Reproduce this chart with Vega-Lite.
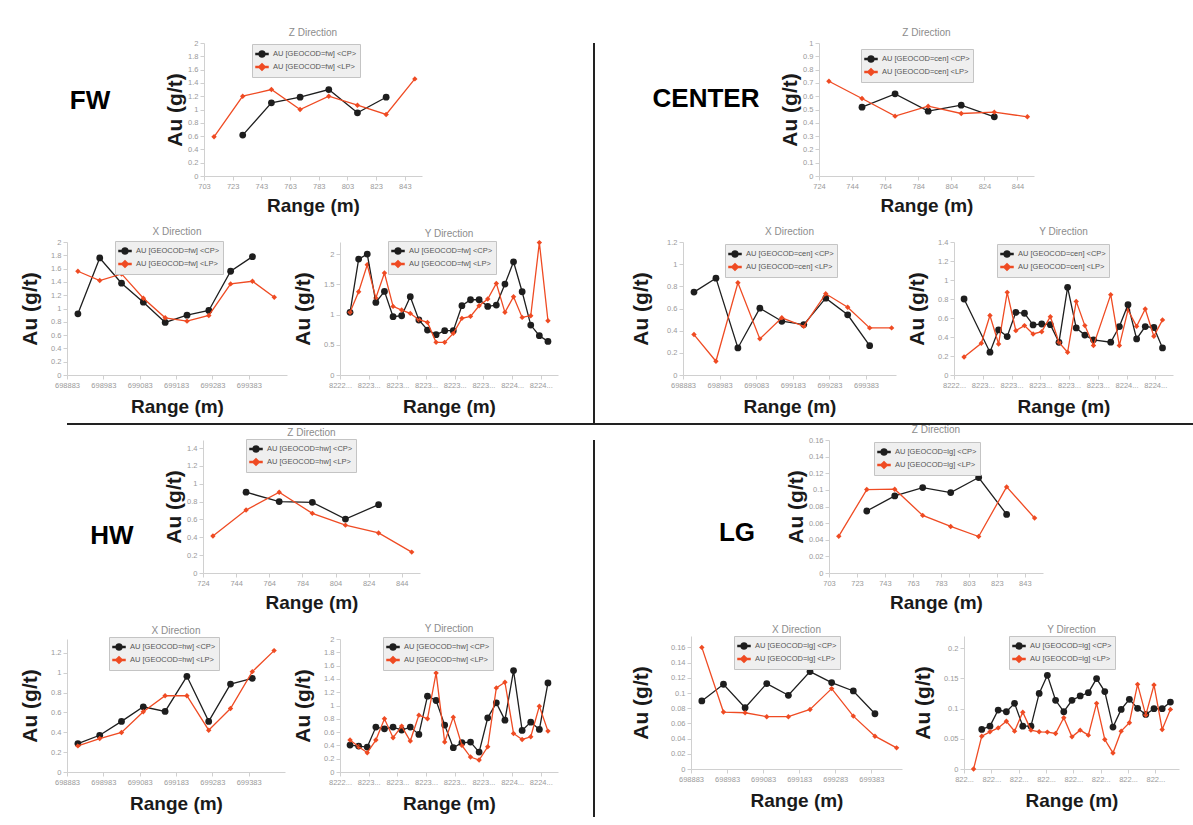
{
"$schema": "https://vega.github.io/schema/vega-lite/v6.json",
"background": "white",
"padding": {"left": 19, "top": 28, "right": 0, "bottom": 0},
"config": {
 "view": {"stroke": null},
 "font": "Liberation Sans",
 "axis": {"grid": false, "domainColor": "#d0d0d0", "tickColor": "#d0d0d0", "labelColor": "#9a9a9a", "labelFontSize": 7.5, "tickSize": 4, "labelPadding": 2, "titleColor": "#1a1a1a", "titleFontWeight": "bold", "labelFlush": false, "labelOverlap": false},
 "axisX": {"titleFontSize": 19, "titlePadding": 9},
 "axisY": {"titleFontSize": 21, "titlePadding": 10},
 "title": {"fontSize": 10, "color": "#8c8c8c", "fontWeight": "normal", "offset": 1},
 "legend": {"orient": "none", "fillColor": "#efefef", "strokeColor": "#c4c4c4", "padding": 3, "labelFontSize": 7.5, "labelColor": "#555555", "symbolSize": 144, "rowPadding": 0, "labelOffset": 4}
},
"datasets": {
 "fwz": [{"x":730,"v":0.615,"s":"CP"},{"x":750,"v":1.1,"s":"CP"},{"x":770,"v":1.185,"s":"CP"},{"x":790,"v":1.3,"s":"CP"},{"x":810,"v":0.95,"s":"CP"},{"x":830,"v":1.185,"s":"CP"},
  {"x":710,"v":0.59,"s":"LP"},{"x":730,"v":1.2,"s":"LP"},{"x":750,"v":1.3,"s":"LP"},{"x":770,"v":1.0,"s":"LP"},{"x":790,"v":1.2,"s":"LP"},{"x":810,"v":1.065,"s":"LP"},{"x":830,"v":0.925,"s":"LP"},{"x":850,"v":1.46,"s":"LP"}],
 "fwx": [{"x":698913,"v":0.92,"s":"CP"},{"x":698973,"v":1.76,"s":"CP"},{"x":699033,"v":1.38,"s":"CP"},{"x":699093,"v":1.095,"s":"CP"},{"x":699153,"v":0.79,"s":"CP"},{"x":699213,"v":0.9,"s":"CP"},{"x":699273,"v":0.97,"s":"CP"},{"x":699333,"v":1.56,"s":"CP"},{"x":699393,"v":1.78,"s":"CP"},
  {"x":698913,"v":1.56,"s":"LP"},{"x":698973,"v":1.42,"s":"LP"},{"x":699033,"v":1.52,"s":"LP"},{"x":699093,"v":1.155,"s":"LP"},{"x":699153,"v":0.86,"s":"LP"},{"x":699213,"v":0.81,"s":"LP"},{"x":699273,"v":0.895,"s":"LP"},{"x":699333,"v":1.37,"s":"LP"},{"x":699393,"v":1.41,"s":"LP"},{"x":699453,"v":1.17,"s":"LP"}],
 "fwy": [{"x":8223053,"v":1.036,"s":"CP"},{"x":8223113,"v":1.917,"s":"CP"},{"x":8223173,"v":2.0,"s":"CP"},{"x":8223233,"v":1.2,"s":"CP"},{"x":8223293,"v":1.383,"s":"CP"},{"x":8223353,"v":0.964,"s":"CP"},{"x":8223413,"v":0.98,"s":"CP"},{"x":8223473,"v":1.295,"s":"CP"},{"x":8223533,"v":0.91,"s":"CP"},{"x":8223593,"v":0.744,"s":"CP"},{"x":8223653,"v":0.667,"s":"CP"},{"x":8223713,"v":0.733,"s":"CP"},{"x":8223773,"v":0.733,"s":"CP"},{"x":8223833,"v":1.146,"s":"CP"},{"x":8223893,"v":1.245,"s":"CP"},{"x":8223953,"v":1.245,"s":"CP"},{"x":8224013,"v":1.135,"s":"CP"},{"x":8224073,"v":1.157,"s":"CP"},{"x":8224133,"v":1.504,"s":"CP"},{"x":8224193,"v":1.873,"s":"CP"},{"x":8224253,"v":1.377,"s":"CP"},{"x":8224313,"v":0.826,"s":"CP"},{"x":8224373,"v":0.65,"s":"CP"},{"x":8224433,"v":0.556,"s":"CP"},
  {"x":8223053,"v":1.036,"s":"LP"},{"x":8223113,"v":1.377,"s":"LP"},{"x":8223173,"v":1.824,"s":"LP"},{"x":8223233,"v":1.273,"s":"LP"},{"x":8223293,"v":1.686,"s":"LP"},{"x":8223353,"v":1.135,"s":"LP"},{"x":8223413,"v":1.074,"s":"LP"},{"x":8223473,"v":1.019,"s":"LP"},{"x":8223533,"v":0.915,"s":"LP"},{"x":8223593,"v":0.87,"s":"LP"},{"x":8223653,"v":0.54,"s":"LP"},{"x":8223713,"v":0.54,"s":"LP"},{"x":8223773,"v":0.689,"s":"LP"},{"x":8223833,"v":0.937,"s":"LP"},{"x":8223893,"v":0.97,"s":"LP"},{"x":8223953,"v":1.146,"s":"LP"},{"x":8224013,"v":1.256,"s":"LP"},{"x":8224073,"v":1.515,"s":"LP"},{"x":8224133,"v":1.036,"s":"LP"},{"x":8224193,"v":1.295,"s":"LP"},{"x":8224253,"v":0.953,"s":"LP"},{"x":8224313,"v":0.98,"s":"LP"},{"x":8224373,"v":2.19,"s":"LP"},{"x":8224433,"v":0.898,"s":"LP"}],
 "cez": [{"x":750,"v":0.5175,"s":"CP"},{"x":770,"v":0.6175,"s":"CP"},{"x":790,"v":0.4875,"s":"CP"},{"x":810,"v":0.5325,"s":"CP"},{"x":830,"v":0.445,"s":"CP"},
  {"x":730,"v":0.7125,"s":"LP"},{"x":750,"v":0.5825,"s":"LP"},{"x":770,"v":0.45,"s":"LP"},{"x":790,"v":0.525,"s":"LP"},{"x":810,"v":0.47,"s":"LP"},{"x":830,"v":0.48,"s":"LP"},{"x":850,"v":0.445,"s":"LP"}],
 "cex": [{"x":698913,"v":0.748,"s":"CP"},{"x":698973,"v":0.874,"s":"CP"},{"x":699033,"v":0.244,"s":"CP"},{"x":699093,"v":0.603,"s":"CP"},{"x":699153,"v":0.485,"s":"CP"},{"x":699213,"v":0.455,"s":"CP"},{"x":699273,"v":0.693,"s":"CP"},{"x":699333,"v":0.543,"s":"CP"},{"x":699393,"v":0.265,"s":"CP"},
  {"x":698913,"v":0.365,"s":"LP"},{"x":698973,"v":0.124,"s":"LP"},{"x":699033,"v":0.832,"s":"LP"},{"x":699093,"v":0.326,"s":"LP"},{"x":699153,"v":0.516,"s":"LP"},{"x":699213,"v":0.44,"s":"LP"},{"x":699273,"v":0.733,"s":"LP"},{"x":699333,"v":0.612,"s":"LP"},{"x":699393,"v":0.425,"s":"LP"},{"x":699453,"v":0.425,"s":"LP"}],
 "cey": [{"x":8223053,"v":0.8,"s":"CP"},{"x":8223233,"v":0.24,"s":"CP"},{"x":8223293,"v":0.475,"s":"CP"},{"x":8223353,"v":0.405,"s":"CP"},{"x":8223413,"v":0.66,"s":"CP"},{"x":8223473,"v":0.65,"s":"CP"},{"x":8223533,"v":0.527,"s":"CP"},{"x":8223593,"v":0.537,"s":"CP"},{"x":8223653,"v":0.53,"s":"CP"},{"x":8223713,"v":0.344,"s":"CP"},{"x":8223773,"v":0.923,"s":"CP"},{"x":8223833,"v":0.495,"s":"CP"},{"x":8223893,"v":0.42,"s":"CP"},{"x":8223953,"v":0.37,"s":"CP"},{"x":8224073,"v":0.345,"s":"CP"},{"x":8224133,"v":0.51,"s":"CP"},{"x":8224193,"v":0.74,"s":"CP"},{"x":8224253,"v":0.38,"s":"CP"},{"x":8224313,"v":0.51,"s":"CP"},{"x":8224373,"v":0.5,"s":"CP"},{"x":8224433,"v":0.285,"s":"CP"},
  {"x":8223053,"v":0.19,"s":"LP"},{"x":8223173,"v":0.334,"s":"LP"},{"x":8223233,"v":0.626,"s":"LP"},{"x":8223293,"v":0.327,"s":"LP"},{"x":8223353,"v":0.87,"s":"LP"},{"x":8223413,"v":0.467,"s":"LP"},{"x":8223473,"v":0.52,"s":"LP"},{"x":8223533,"v":0.432,"s":"LP"},{"x":8223593,"v":0.456,"s":"LP"},{"x":8223653,"v":0.614,"s":"LP"},{"x":8223713,"v":0.344,"s":"LP"},{"x":8223773,"v":0.239,"s":"LP"},{"x":8223833,"v":0.775,"s":"LP"},{"x":8223893,"v":0.52,"s":"LP"},{"x":8223953,"v":0.31,"s":"LP"},{"x":8224073,"v":0.846,"s":"LP"},{"x":8224133,"v":0.31,"s":"LP"},{"x":8224193,"v":0.684,"s":"LP"},{"x":8224253,"v":0.512,"s":"LP"},{"x":8224313,"v":0.695,"s":"LP"},{"x":8224373,"v":0.407,"s":"LP"},{"x":8224433,"v":0.58,"s":"LP"}],
 "hwz": [{"x":750,"v":0.905,"s":"CP"},{"x":770,"v":0.8,"s":"CP"},{"x":790,"v":0.792,"s":"CP"},{"x":810,"v":0.604,"s":"CP"},{"x":830,"v":0.766,"s":"CP"},
  {"x":730,"v":0.415,"s":"LP"},{"x":750,"v":0.705,"s":"LP"},{"x":770,"v":0.905,"s":"LP"},{"x":790,"v":0.668,"s":"LP"},{"x":810,"v":0.536,"s":"LP"},{"x":830,"v":0.449,"s":"LP"},{"x":850,"v":0.234,"s":"LP"}],
 "hwx": [{"x":698913,"v":0.286,"s":"CP"},{"x":698973,"v":0.37,"s":"CP"},{"x":699033,"v":0.51,"s":"CP"},{"x":699093,"v":0.657,"s":"CP"},{"x":699153,"v":0.61,"s":"CP"},{"x":699213,"v":0.964,"s":"CP"},{"x":699273,"v":0.51,"s":"CP"},{"x":699333,"v":0.886,"s":"CP"},{"x":699393,"v":0.944,"s":"CP"},
  {"x":698913,"v":0.263,"s":"LP"},{"x":698973,"v":0.337,"s":"LP"},{"x":699033,"v":0.398,"s":"LP"},{"x":699093,"v":0.607,"s":"LP"},{"x":699153,"v":0.768,"s":"LP"},{"x":699213,"v":0.768,"s":"LP"},{"x":699273,"v":0.421,"s":"LP"},{"x":699333,"v":0.64,"s":"LP"},{"x":699393,"v":1.011,"s":"LP"},{"x":699453,"v":1.223,"s":"LP"}],
 "hwy": [{"x":8223053,"v":0.405,"s":"CP"},{"x":8223113,"v":0.39,"s":"CP"},{"x":8223173,"v":0.375,"s":"CP"},{"x":8223233,"v":0.675,"s":"CP"},{"x":8223293,"v":0.65,"s":"CP"},{"x":8223353,"v":0.675,"s":"CP"},{"x":8223413,"v":0.63,"s":"CP"},{"x":8223473,"v":0.675,"s":"CP"},{"x":8223533,"v":0.565,"s":"CP"},{"x":8223593,"v":1.14,"s":"CP"},{"x":8223653,"v":1.075,"s":"CP"},{"x":8223713,"v":0.705,"s":"CP"},{"x":8223773,"v":0.365,"s":"CP"},{"x":8223833,"v":0.44,"s":"CP"},{"x":8223893,"v":0.45,"s":"CP"},{"x":8223953,"v":0.3,"s":"CP"},{"x":8224013,"v":0.815,"s":"CP"},{"x":8224073,"v":1.04,"s":"CP"},{"x":8224133,"v":0.78,"s":"CP"},{"x":8224193,"v":1.525,"s":"CP"},{"x":8224253,"v":0.625,"s":"CP"},{"x":8224313,"v":0.75,"s":"CP"},{"x":8224373,"v":0.64,"s":"CP"},{"x":8224433,"v":1.34,"s":"CP"},
  {"x":8223053,"v":0.48,"s":"LP"},{"x":8223113,"v":0.38,"s":"LP"},{"x":8223173,"v":0.29,"s":"LP"},{"x":8223233,"v":0.48,"s":"LP"},{"x":8223293,"v":0.8,"s":"LP"},{"x":8223353,"v":0.515,"s":"LP"},{"x":8223413,"v":0.69,"s":"LP"},{"x":8223473,"v":0.465,"s":"LP"},{"x":8223533,"v":0.855,"s":"LP"},{"x":8223593,"v":0.8,"s":"LP"},{"x":8223653,"v":1.49,"s":"LP"},{"x":8223713,"v":0.45,"s":"LP"},{"x":8223773,"v":0.825,"s":"LP"},{"x":8223833,"v":0.4,"s":"LP"},{"x":8223893,"v":0.225,"s":"LP"},{"x":8223953,"v":0.18,"s":"LP"},{"x":8224013,"v":0.38,"s":"LP"},{"x":8224073,"v":1.265,"s":"LP"},{"x":8224133,"v":1.35,"s":"LP"},{"x":8224193,"v":0.58,"s":"LP"},{"x":8224253,"v":0.49,"s":"LP"},{"x":8224313,"v":0.53,"s":"LP"},{"x":8224373,"v":0.99,"s":"LP"},{"x":8224433,"v":0.615,"s":"LP"}],
 "lgz": [{"x":730,"v":0.0746,"s":"CP"},{"x":750,"v":0.0927,"s":"CP"},{"x":770,"v":0.1028,"s":"CP"},{"x":790,"v":0.0967,"s":"CP"},{"x":810,"v":0.1149,"s":"CP"},{"x":830,"v":0.0705,"s":"CP"},
  {"x":710,"v":0.0443,"s":"LP"},{"x":730,"v":0.1004,"s":"LP"},{"x":750,"v":0.1008,"s":"LP"},{"x":770,"v":0.0693,"s":"LP"},{"x":790,"v":0.056,"s":"LP"},{"x":810,"v":0.0439,"s":"LP"},{"x":830,"v":0.1036,"s":"LP"},{"x":850,"v":0.0661,"s":"LP"}],
 "lgx": [{"x":698913,"v":0.0895,"s":"CP"},{"x":698973,"v":0.1115,"s":"CP"},{"x":699033,"v":0.0807,"s":"CP"},{"x":699093,"v":0.1124,"s":"CP"},{"x":699153,"v":0.097,"s":"CP"},{"x":699213,"v":0.1282,"s":"CP"},{"x":699273,"v":0.1137,"s":"CP"},{"x":699333,"v":0.1027,"s":"CP"},{"x":699393,"v":0.0727,"s":"CP"},
  {"x":698913,"v":0.16,"s":"LP"},{"x":698973,"v":0.0749,"s":"LP"},{"x":699033,"v":0.074,"s":"LP"},{"x":699093,"v":0.0688,"s":"LP"},{"x":699153,"v":0.0688,"s":"LP"},{"x":699213,"v":0.0784,"s":"LP"},{"x":699273,"v":0.1058,"s":"LP"},{"x":699333,"v":0.0696,"s":"LP"},{"x":699393,"v":0.0432,"s":"LP"},{"x":699453,"v":0.0278,"s":"LP"}],
 "lgy": [{"x":8223113,"v":0.0654,"s":"CP"},{"x":8223173,"v":0.0709,"s":"CP"},{"x":8223233,"v":0.0975,"s":"CP"},{"x":8223293,"v":0.0947,"s":"CP"},{"x":8223353,"v":0.1086,"s":"CP"},{"x":8223413,"v":0.0709,"s":"CP"},{"x":8223473,"v":0.0709,"s":"CP"},{"x":8223533,"v":0.125,"s":"CP"},{"x":8223593,"v":0.155,"s":"CP"},{"x":8223653,"v":0.1136,"s":"CP"},{"x":8223713,"v":0.0947,"s":"CP"},{"x":8223773,"v":0.1136,"s":"CP"},{"x":8223833,"v":0.1208,"s":"CP"},{"x":8223893,"v":0.1263,"s":"CP"},{"x":8223953,"v":0.1496,"s":"CP"},{"x":8224013,"v":0.128,"s":"CP"},{"x":8224073,"v":0.0693,"s":"CP"},{"x":8224133,"v":0.0986,"s":"CP"},{"x":8224193,"v":0.1152,"s":"CP"},{"x":8224253,"v":0.1003,"s":"CP"},{"x":8224313,"v":0.0903,"s":"CP"},{"x":8224373,"v":0.0997,"s":"CP"},{"x":8224433,"v":0.0997,"s":"CP"},{"x":8224493,"v":0.1108,"s":"CP"},
  {"x":8223053,"v":0,"s":"LP"},{"x":8223113,"v":0.0543,"s":"LP"},{"x":8223173,"v":0.0615,"s":"LP"},{"x":8223233,"v":0.068,"s":"LP"},{"x":8223293,"v":0.079,"s":"LP"},{"x":8223353,"v":0.0626,"s":"LP"},{"x":8223413,"v":0.094,"s":"LP"},{"x":8223473,"v":0.0643,"s":"LP"},{"x":8223533,"v":0.0615,"s":"LP"},{"x":8223593,"v":0.061,"s":"LP"},{"x":8223653,"v":0.0587,"s":"LP"},{"x":8223713,"v":0.0848,"s":"LP"},{"x":8223773,"v":0.0532,"s":"LP"},{"x":8223833,"v":0.0643,"s":"LP"},{"x":8223893,"v":0.056,"s":"LP"},{"x":8223953,"v":0.1086,"s":"LP"},{"x":8224013,"v":0.0488,"s":"LP"},{"x":8224073,"v":0.0266,"s":"LP"},{"x":8224133,"v":0.0626,"s":"LP"},{"x":8224193,"v":0.0765,"s":"LP"},{"x":8224253,"v":0.14,"s":"LP"},{"x":8224313,"v":0.0892,"s":"LP"},{"x":8224373,"v":0.139,"s":"LP"},{"x":8224433,"v":0.0654,"s":"LP"},{"x":8224493,"v":0.0986,"s":"LP"}]
},
"columns": 1,
"align": "none",
"spacing": 0,
"resolve": {"scale": {"color": "independent", "shape": "independent"}},
"concat": [
 {"spacing": 35, "resolve": {"scale": {"color": "independent", "shape": "independent"}}, "hconcat": [
  {"spacing": 11, "resolve": {"scale": {"color": "independent", "shape": "independent"}}, "vconcat": [
   {"spacing": 4, "resolve": {"scale": {"color": "independent", "shape": "independent"}}, "hconcat": [
    {"width": 93, "height": 133, "data": {"values": [{"t": "FW"}]}, "mark": {"type": "text", "fontSize": 26, "fontWeight": "bold", "color": "#000000", "dx": -23.5, "dy": -8.5}, "encoding": {"text": {"field": "t"}}},
    {"width": 218, "height": 133, "title": "Z Direction", "data": {"name": "fwz"},
     "encoding": {
      "x": {"field": "x", "type": "quantitative", "scale": {"domain": [703, 855], "nice": false, "zero": false}, "axis": {"title": "Range (m)", "values": [703,723,743,763,783,803,823,843], "format": "d", "titlePadding": 7}},
      "y": {"field": "v", "type": "quantitative", "scale": {"domain": [0, 2], "nice": false}, "axis": {"title": "Au (g/t)", "values": [0,0.2,0.4,0.6,0.8,1,1.2,1.4,1.6,1.8,2], "format": "~g", "titlePadding": 2}},
      "color": {"field": "s", "type": "nominal", "scale": {"domain": ["CP","LP"], "range": ["#1e1e1e","#ef4b23"]}, "legend": {"title": null, "legendX": 48, "legendY": 1, "labelExpr": "'AU [GEOCOD=fw] <' + datum.label + '>'"}}
     },
     "layer": [
      {"transform": [{"filter": "datum.s === 'CP'"}], "mark": {"type": "point", "filled": true, "opacity": 1, "size": 46, "shape": "circle"}},
      {"transform": [{"filter": "datum.s === 'LP'"}], "mark": {"type": "point", "filled": true, "opacity": 1, "size": 46, "shape": "M0,-0.8L0.8,0L0,0.8L-0.8,0Z"}},
      {"mark": {"type": "line", "strokeWidth": 1.3}},
      {"transform": [{"filter": "false"}], "mark": {"type": "point", "filled": true, "opacity": 1}, "encoding": {"shape": {"field": "s", "type": "nominal", "scale": {"domain": ["CP","LP"], "range": ["M-1,-0.08H-0.49A0.5,0.5,0,0,1,0.49,-0.08H1V0.08H0.49A0.5,0.5,0,0,1,-0.49,0.08H-1Z", "M-1,-0.08H-0.47L0,-0.55L0.47,-0.08H1V0.08H0.47L0,0.55L-0.47,0.08H-1Z"]}, "legend": {"title": null, "legendX": 48, "legendY": 1, "labelExpr": "'AU [GEOCOD=fw] <' + datum.label + '>'"}}}}
     ]}
   ]},
   {"spacing": 5, "resolve": {"scale": {"color": "independent", "shape": "independent"}}, "hconcat": [
    {"width": 220, "height": 133, "title": "X Direction", "data": {"name": "fwx"},
     "encoding": {
      "x": {"field": "x", "type": "quantitative", "scale": {"domain": [698883, 699488], "nice": false, "zero": false}, "axis": {"title": "Range (m)", "values": [698883,698983,699083,699183,699283,699383], "format": "d"}},
      "y": {"field": "v", "type": "quantitative", "scale": {"domain": [0, 2], "nice": false}, "axis": {"title": "Au (g/t)", "values": [0,0.2,0.4,0.6,0.8,1,1.2,1.4,1.6,1.8,2], "format": "~g"}},
      "color": {"field": "s", "type": "nominal", "scale": {"domain": ["CP","LP"], "range": ["#1e1e1e","#ef4b23"]}, "legend": {"title": null, "legendX": 48, "legendY": -1, "labelExpr": "'AU [GEOCOD=fw] <' + datum.label + '>'"}}
     },
     "layer": [
      {"transform": [{"filter": "datum.s === 'CP'"}], "mark": {"type": "point", "filled": true, "opacity": 1, "size": 46, "shape": "circle"}},
      {"transform": [{"filter": "datum.s === 'LP'"}], "mark": {"type": "point", "filled": true, "opacity": 1, "size": 46, "shape": "M0,-0.8L0.8,0L0,0.8L-0.8,0Z"}},
      {"mark": {"type": "line", "strokeWidth": 1.3}},
      {"transform": [{"filter": "false"}], "mark": {"type": "point", "filled": true, "opacity": 1}, "encoding": {"shape": {"field": "s", "type": "nominal", "scale": {"domain": ["CP","LP"], "range": ["M-1,-0.08H-0.49A0.5,0.5,0,0,1,0.49,-0.08H1V0.08H0.49A0.5,0.5,0,0,1,-0.49,0.08H-1Z", "M-1,-0.08H-0.47L0,-0.55L0.47,-0.08H1V0.08H0.47L0,0.55L-0.47,0.08H-1Z"]}, "legend": {"title": null, "legendX": 48, "legendY": -1, "labelExpr": "'AU [GEOCOD=fw] <' + datum.label + '>'"}}}}
     ]},
    {"width": 218, "height": 133, "title": "Y Direction", "data": {"name": "fwy"},
     "encoding": {
      "x": {"field": "x", "type": "quantitative", "scale": {"domain": [8222983, 8224503], "nice": false, "zero": false}, "axis": {"title": "Range (m)", "values": [8222983,8223183,8223383,8223583,8223783,8223983,8224183,8224383], "format": "d", "labelExpr": "slice(datum.label, 0, 4) + '...'"}},
      "y": {"field": "v", "type": "quantitative", "scale": {"domain": [0, 2.2], "nice": false}, "axis": {"title": "Au (g/t)", "values": [0,0.5,1,1.5,2], "format": "~g"}},
      "color": {"field": "s", "type": "nominal", "scale": {"domain": ["CP","LP"], "range": ["#1e1e1e","#ef4b23"]}, "legend": {"title": null, "legendX": 48, "legendY": -1, "labelExpr": "'AU [GEOCOD=fw] <' + datum.label + '>'"}}
     },
     "layer": [
      {"transform": [{"filter": "datum.s === 'CP'"}], "mark": {"type": "point", "filled": true, "opacity": 1, "size": 46, "shape": "circle"}},
      {"transform": [{"filter": "datum.s === 'LP'"}], "mark": {"type": "point", "filled": true, "opacity": 1, "size": 46, "shape": "M0,-0.8L0.8,0L0,0.8L-0.8,0Z"}},
      {"mark": {"type": "line", "strokeWidth": 1.3}},
      {"transform": [{"filter": "false"}], "mark": {"type": "point", "filled": true, "opacity": 1}, "encoding": {"shape": {"field": "s", "type": "nominal", "scale": {"domain": ["CP","LP"], "range": ["M-1,-0.08H-0.49A0.5,0.5,0,0,1,0.49,-0.08H1V0.08H0.49A0.5,0.5,0,0,1,-0.49,0.08H-1Z", "M-1,-0.08H-0.47L0,-0.55L0.47,-0.08H1V0.08H0.47L0,0.55L-0.47,0.08H-1Z"]}, "legend": {"title": null, "legendX": 48, "legendY": -1, "labelExpr": "'AU [GEOCOD=fw] <' + datum.label + '>'"}}}}
     ]}
   ]}
  ]},
  {"width": 2, "height": 380, "data": {"values": [{}]}, "mark": {"type": "rect", "color": "#222222"}, "view": {"fill": "#222222", "stroke": null}},
  {"spacing": 11, "resolve": {"scale": {"color": "independent", "shape": "independent"}}, "vconcat": [
   {"spacing": 4, "resolve": {"scale": {"color": "independent", "shape": "independent"}}, "hconcat": [
    {"width": 92, "height": 133, "data": {"values": [{"t": "CENTER"}]}, "mark": {"type": "text", "fontSize": 26, "fontWeight": "bold", "color": "#000000", "dx": -23, "dy": -10.5}, "encoding": {"text": {"field": "t"}}},
    {"width": 215, "height": 133, "title": "Z Direction", "data": {"name": "cez"},
     "encoding": {
      "x": {"field": "x", "type": "quantitative", "scale": {"domain": [724, 854], "nice": false, "zero": false}, "axis": {"title": "Range (m)", "values": [724,744,764,784,804,824,844], "format": "d", "titlePadding": 7}},
      "y": {"field": "v", "type": "quantitative", "scale": {"domain": [0, 1], "nice": false}, "axis": {"title": "Au (g/t)", "values": [0,0.1,0.2,0.3,0.4,0.5,0.6,0.7,0.8,0.9,1], "format": "~g", "titlePadding": 2}},
      "color": {"field": "s", "type": "nominal", "scale": {"domain": ["CP","LP"], "range": ["#1e1e1e","#ef4b23"]}, "legend": {"title": null, "legendX": 42, "legendY": 6, "labelExpr": "'AU [GEOCOD=cen] <' + datum.label + '>'"}}
     },
     "layer": [
      {"transform": [{"filter": "datum.s === 'CP'"}], "mark": {"type": "point", "filled": true, "opacity": 1, "size": 46, "shape": "circle"}},
      {"transform": [{"filter": "datum.s === 'LP'"}], "mark": {"type": "point", "filled": true, "opacity": 1, "size": 46, "shape": "M0,-0.8L0.8,0L0,0.8L-0.8,0Z"}},
      {"mark": {"type": "line", "strokeWidth": 1.3}},
      {"transform": [{"filter": "false"}], "mark": {"type": "point", "filled": true, "opacity": 1}, "encoding": {"shape": {"field": "s", "type": "nominal", "scale": {"domain": ["CP","LP"], "range": ["M-1,-0.08H-0.49A0.5,0.5,0,0,1,0.49,-0.08H1V0.08H0.49A0.5,0.5,0,0,1,-0.49,0.08H-1Z", "M-1,-0.08H-0.47L0,-0.55L0.47,-0.08H1V0.08H0.47L0,0.55L-0.47,0.08H-1Z"]}, "legend": {"title": null, "legendX": 42, "legendY": 6, "labelExpr": "'AU [GEOCOD=cen] <' + datum.label + '>'"}}}}
     ]}
   ]},
   {"spacing": 10, "resolve": {"scale": {"color": "independent", "shape": "independent"}}, "hconcat": [
    {"width": 213, "height": 133, "title": "X Direction", "data": {"name": "cex"},
     "encoding": {
      "x": {"field": "x", "type": "quantitative", "scale": {"domain": [698883, 699465], "nice": false, "zero": false}, "axis": {"title": "Range (m)", "values": [698883,698983,699083,699183,699283,699383], "format": "d"}},
      "y": {"field": "v", "type": "quantitative", "scale": {"domain": [0, 1.2], "nice": false}, "axis": {"title": "Au (g/t)", "values": [0,0.2,0.4,0.6,0.8,1,1.2], "format": "~g", "titlePadding": 15}},
      "color": {"field": "s", "type": "nominal", "scale": {"domain": ["CP","LP"], "range": ["#1e1e1e","#ef4b23"]}, "legend": {"title": null, "legendX": 42, "legendY": 2, "labelExpr": "'AU [GEOCOD=cen] <' + datum.label + '>'"}}
     },
     "layer": [
      {"transform": [{"filter": "datum.s === 'CP'"}], "mark": {"type": "point", "filled": true, "opacity": 1, "size": 46, "shape": "circle"}},
      {"transform": [{"filter": "datum.s === 'LP'"}], "mark": {"type": "point", "filled": true, "opacity": 1, "size": 46, "shape": "M0,-0.8L0.8,0L0,0.8L-0.8,0Z"}},
      {"mark": {"type": "line", "strokeWidth": 1.3}},
      {"transform": [{"filter": "false"}], "mark": {"type": "point", "filled": true, "opacity": 1}, "encoding": {"shape": {"field": "s", "type": "nominal", "scale": {"domain": ["CP","LP"], "range": ["M-1,-0.08H-0.49A0.5,0.5,0,0,1,0.49,-0.08H1V0.08H0.49A0.5,0.5,0,0,1,-0.49,0.08H-1Z", "M-1,-0.08H-0.47L0,-0.55L0.47,-0.08H1V0.08H0.47L0,0.55L-0.47,0.08H-1Z"]}, "legend": {"title": null, "legendX": 42, "legendY": 2, "labelExpr": "'AU [GEOCOD=cen] <' + datum.label + '>'"}}}}
     ]},
    {"width": 219, "height": 133, "title": "Y Direction", "data": {"name": "cey"},
     "encoding": {
      "x": {"field": "x", "type": "quantitative", "scale": {"domain": [8222983, 8224506], "nice": false, "zero": false}, "axis": {"title": "Range (m)", "values": [8222983,8223183,8223383,8223583,8223783,8223983,8224183,8224383], "format": "d", "labelExpr": "slice(datum.label, 0, 4) + '...'"}},
      "y": {"field": "v", "type": "quantitative", "scale": {"domain": [0, 1.4], "nice": false}, "axis": {"title": "Au (g/t)", "values": [0,0.2,0.4,0.6,0.8,1,1.2,1.4], "format": "~g"}},
      "color": {"field": "s", "type": "nominal", "scale": {"domain": ["CP","LP"], "range": ["#1e1e1e","#ef4b23"]}, "legend": {"title": null, "legendX": 43, "legendY": 2, "labelExpr": "'AU [GEOCOD=cen] <' + datum.label + '>'"}}
     },
     "layer": [
      {"transform": [{"filter": "datum.s === 'CP'"}], "mark": {"type": "point", "filled": true, "opacity": 1, "size": 46, "shape": "circle"}},
      {"transform": [{"filter": "datum.s === 'LP'"}], "mark": {"type": "point", "filled": true, "opacity": 1, "size": 46, "shape": "M0,-0.8L0.8,0L0,0.8L-0.8,0Z"}},
      {"mark": {"type": "line", "strokeWidth": 1.3}},
      {"transform": [{"filter": "false"}], "mark": {"type": "point", "filled": true, "opacity": 1}, "encoding": {"shape": {"field": "s", "type": "nominal", "scale": {"domain": ["CP","LP"], "range": ["M-1,-0.08H-0.49A0.5,0.5,0,0,1,0.49,-0.08H1V0.08H0.49A0.5,0.5,0,0,1,-0.49,0.08H-1Z", "M-1,-0.08H-0.47L0,-0.55L0.47,-0.08H1V0.08H0.47L0,0.55L-0.47,0.08H-1Z"]}, "legend": {"title": null, "legendX": 43, "legendY": 2, "labelExpr": "'AU [GEOCOD=cen] <' + datum.label + '>'"}}}}
     ]}
   ]}
  ]}
 ]},
 {"width": 1126, "height": 2, "data": {"values": [{}]}, "mark": {"type": "rect", "color": "#222222"}, "view": {"fill": "#222222", "stroke": null}},
 {"spacing": 35, "resolve": {"scale": {"color": "independent", "shape": "independent"}}, "hconcat": [
  {"spacing": 11, "resolve": {"scale": {"color": "independent", "shape": "independent"}}, "vconcat": [
   {"spacing": 4, "resolve": {"scale": {"color": "independent", "shape": "independent"}}, "hconcat": [
    {"width": 92, "height": 133, "data": {"values": [{"t": "HW"}]}, "mark": {"type": "text", "fontSize": 26, "fontWeight": "bold", "color": "#000000", "dx": -1, "dy": 29.5}, "encoding": {"text": {"field": "t"}}},
    {"width": 217, "height": 133, "title": "Z Direction", "data": {"name": "hwz"},
     "encoding": {
      "x": {"field": "x", "type": "quantitative", "scale": {"domain": [724, 855], "nice": false, "zero": false}, "axis": {"title": "Range (m)", "values": [724,744,764,784,804,824,844], "format": "d", "titlePadding": 7}},
      "y": {"field": "v", "type": "quantitative", "scale": {"domain": [0, 1.49], "nice": false}, "axis": {"title": "Au (g/t)", "values": [0,0.2,0.4,0.6,0.8,1,1.2,1.4], "format": "~g", "titlePadding": 2}},
      "color": {"field": "s", "type": "nominal", "scale": {"domain": ["CP","LP"], "range": ["#1e1e1e","#ef4b23"]}, "legend": {"title": null, "legendX": 43, "legendY": -1, "labelExpr": "'AU [GEOCOD=hw] <' + datum.label + '>'"}}
     },
     "layer": [
      {"transform": [{"filter": "datum.s === 'CP'"}], "mark": {"type": "point", "filled": true, "opacity": 1, "size": 46, "shape": "circle"}},
      {"transform": [{"filter": "datum.s === 'LP'"}], "mark": {"type": "point", "filled": true, "opacity": 1, "size": 46, "shape": "M0,-0.8L0.8,0L0,0.8L-0.8,0Z"}},
      {"mark": {"type": "line", "strokeWidth": 1.3}},
      {"transform": [{"filter": "false"}], "mark": {"type": "point", "filled": true, "opacity": 1}, "encoding": {"shape": {"field": "s", "type": "nominal", "scale": {"domain": ["CP","LP"], "range": ["M-1,-0.08H-0.49A0.5,0.5,0,0,1,0.49,-0.08H1V0.08H0.49A0.5,0.5,0,0,1,-0.49,0.08H-1Z", "M-1,-0.08H-0.47L0,-0.55L0.47,-0.08H1V0.08H0.47L0,0.55L-0.47,0.08H-1Z"]}, "legend": {"title": null, "legendX": 43, "legendY": -1, "labelExpr": "'AU [GEOCOD=hw] <' + datum.label + '>'"}}}}
     ]}
   ]},
   {"spacing": 7, "resolve": {"scale": {"color": "independent", "shape": "independent"}}, "hconcat": [
    {"width": 218, "height": 133, "title": "X Direction", "data": {"name": "hwx"},
     "encoding": {
      "x": {"field": "x", "type": "quantitative", "scale": {"domain": [698883, 699483], "nice": false, "zero": false}, "axis": {"title": "Range (m)", "values": [698883,698983,699083,699183,699283,699383], "format": "d"}},
      "y": {"field": "v", "type": "quantitative", "scale": {"domain": [0, 1.34], "nice": false}, "axis": {"title": "Au (g/t)", "values": [0,0.2,0.4,0.6,0.8,1,1.2], "format": "~g"}},
      "color": {"field": "s", "type": "nominal", "scale": {"domain": ["CP","LP"], "range": ["#1e1e1e","#ef4b23"]}, "legend": {"title": null, "legendX": 42, "legendY": -2, "labelExpr": "'AU [GEOCOD=hw] <' + datum.label + '>'"}}
     },
     "layer": [
      {"transform": [{"filter": "datum.s === 'CP'"}], "mark": {"type": "point", "filled": true, "opacity": 1, "size": 46, "shape": "circle"}},
      {"transform": [{"filter": "datum.s === 'LP'"}], "mark": {"type": "point", "filled": true, "opacity": 1, "size": 46, "shape": "M0,-0.8L0.8,0L0,0.8L-0.8,0Z"}},
      {"mark": {"type": "line", "strokeWidth": 1.3}},
      {"transform": [{"filter": "false"}], "mark": {"type": "point", "filled": true, "opacity": 1}, "encoding": {"shape": {"field": "s", "type": "nominal", "scale": {"domain": ["CP","LP"], "range": ["M-1,-0.08H-0.49A0.5,0.5,0,0,1,0.49,-0.08H1V0.08H0.49A0.5,0.5,0,0,1,-0.49,0.08H-1Z", "M-1,-0.08H-0.47L0,-0.55L0.47,-0.08H1V0.08H0.47L0,0.55L-0.47,0.08H-1Z"]}, "legend": {"title": null, "legendX": 42, "legendY": -2, "labelExpr": "'AU [GEOCOD=hw] <' + datum.label + '>'"}}}}
     ]},
    {"width": 218, "height": 133, "title": "Y Direction", "data": {"name": "hwy"},
     "encoding": {
      "x": {"field": "x", "type": "quantitative", "scale": {"domain": [8222983, 8224503], "nice": false, "zero": false}, "axis": {"title": "Range (m)", "values": [8222983,8223183,8223383,8223583,8223783,8223983,8224183,8224383], "format": "d", "labelExpr": "slice(datum.label, 0, 4) + '...'"}},
      "y": {"field": "v", "type": "quantitative", "scale": {"domain": [0, 2], "nice": false}, "axis": {"title": "Au (g/t)", "values": [0,0.2,0.4,0.6,0.8,1,1.2,1.4,1.6,1.8,2], "format": "~g"}},
      "color": {"field": "s", "type": "nominal", "scale": {"domain": ["CP","LP"], "range": ["#1e1e1e","#ef4b23"]}, "legend": {"title": null, "legendX": 43, "legendY": -2, "labelExpr": "'AU [GEOCOD=hw] <' + datum.label + '>'"}}
     },
     "layer": [
      {"transform": [{"filter": "datum.s === 'CP'"}], "mark": {"type": "point", "filled": true, "opacity": 1, "size": 46, "shape": "circle"}},
      {"transform": [{"filter": "datum.s === 'LP'"}], "mark": {"type": "point", "filled": true, "opacity": 1, "size": 46, "shape": "M0,-0.8L0.8,0L0,0.8L-0.8,0Z"}},
      {"mark": {"type": "line", "strokeWidth": 1.3}},
      {"transform": [{"filter": "false"}], "mark": {"type": "point", "filled": true, "opacity": 1}, "encoding": {"shape": {"field": "s", "type": "nominal", "scale": {"domain": ["CP","LP"], "range": ["M-1,-0.08H-0.49A0.5,0.5,0,0,1,0.49,-0.08H1V0.08H0.49A0.5,0.5,0,0,1,-0.49,0.08H-1Z", "M-1,-0.08H-0.47L0,-0.55L0.47,-0.08H1V0.08H0.47L0,0.55L-0.47,0.08H-1Z"]}, "legend": {"title": null, "legendX": 43, "legendY": -2, "labelExpr": "'AU [GEOCOD=hw] <' + datum.label + '>'"}}}}
     ]}
   ]}
  ]},
  {"width": 2, "height": 377, "data": {"values": [{}]}, "mark": {"type": "rect", "color": "#222222"}, "view": {"fill": "#222222", "stroke": null}},
  {"spacing": 11, "resolve": {"scale": {"color": "independent", "shape": "independent"}}, "vconcat": [
   {"spacing": 4, "resolve": {"scale": {"color": "independent", "shape": "independent"}}, "hconcat": [
    {"width": 90, "height": 133, "data": {"values": [{"t": "LG"}]}, "mark": {"type": "text", "fontSize": 26, "fontWeight": "bold", "color": "#000000", "dx": 1, "dy": 26.5}, "encoding": {"text": {"field": "t"}}},
    {"width": 214, "height": 133, "title": "Z Direction", "data": {"name": "lgz"},
     "encoding": {
      "x": {"field": "x", "type": "quantitative", "scale": {"domain": [703, 856], "nice": false, "zero": false}, "axis": {"title": "Range (m)", "values": [703,723,743,763,783,803,823,843], "format": "d", "titlePadding": 7}},
      "y": {"field": "v", "type": "quantitative", "scale": {"domain": [0, 0.16], "nice": false}, "axis": {"title": "Au (g/t)", "values": [0,0.02,0.04,0.06,0.08,0.1,0.12,0.14,0.16], "format": "~g", "titlePadding": 2}},
      "color": {"field": "s", "type": "nominal", "scale": {"domain": ["CP","LP"], "range": ["#1e1e1e","#ef4b23"]}, "legend": {"title": null, "legendX": 45, "legendY": 2, "labelExpr": "'AU [GEOCOD=lg] <' + datum.label + '>'"}}
     },
     "layer": [
      {"transform": [{"filter": "datum.s === 'CP'"}], "mark": {"type": "point", "filled": true, "opacity": 1, "size": 46, "shape": "circle"}},
      {"transform": [{"filter": "datum.s === 'LP'"}], "mark": {"type": "point", "filled": true, "opacity": 1, "size": 46, "shape": "M0,-0.8L0.8,0L0,0.8L-0.8,0Z"}},
      {"mark": {"type": "line", "strokeWidth": 1.3}},
      {"transform": [{"filter": "false"}], "mark": {"type": "point", "filled": true, "opacity": 1}, "encoding": {"shape": {"field": "s", "type": "nominal", "scale": {"domain": ["CP","LP"], "range": ["M-1,-0.08H-0.49A0.5,0.5,0,0,1,0.49,-0.08H1V0.08H0.49A0.5,0.5,0,0,1,-0.49,0.08H-1Z", "M-1,-0.08H-0.47L0,-0.55L0.47,-0.08H1V0.08H0.47L0,0.55L-0.47,0.08H-1Z"]}, "legend": {"title": null, "legendX": 45, "legendY": 2, "labelExpr": "'AU [GEOCOD=lg] <' + datum.label + '>'"}}}}
     ]}
   ]},
   {"spacing": 10, "resolve": {"scale": {"color": "independent", "shape": "independent"}}, "hconcat": [
    {"width": 211, "height": 133, "title": "X Direction", "data": {"name": "lgx"},
     "encoding": {
      "x": {"field": "x", "type": "quantitative", "scale": {"domain": [698883, 699468], "nice": false, "zero": false}, "axis": {"title": "Range (m)", "values": [698883,698983,699083,699183,699283,699383], "format": "d"}},
      "y": {"field": "v", "type": "quantitative", "scale": {"domain": [0, 0.175], "nice": false}, "axis": {"title": "Au (g/t)", "values": [0,0.02,0.04,0.06,0.08,0.1,0.12,0.14,0.16], "format": "~g", "titlePadding": 19}},
      "color": {"field": "s", "type": "nominal", "scale": {"domain": ["CP","LP"], "range": ["#1e1e1e","#ef4b23"]}, "legend": {"title": null, "legendX": 43, "legendY": 0, "labelExpr": "'AU [GEOCOD=lg] <' + datum.label + '>'"}}
     },
     "layer": [
      {"transform": [{"filter": "datum.s === 'CP'"}], "mark": {"type": "point", "filled": true, "opacity": 1, "size": 46, "shape": "circle"}},
      {"transform": [{"filter": "datum.s === 'LP'"}], "mark": {"type": "point", "filled": true, "opacity": 1, "size": 46, "shape": "M0,-0.8L0.8,0L0,0.8L-0.8,0Z"}},
      {"mark": {"type": "line", "strokeWidth": 1.3}},
      {"transform": [{"filter": "false"}], "mark": {"type": "point", "filled": true, "opacity": 1}, "encoding": {"shape": {"field": "s", "type": "nominal", "scale": {"domain": ["CP","LP"], "range": ["M-1,-0.08H-0.49A0.5,0.5,0,0,1,0.49,-0.08H1V0.08H0.49A0.5,0.5,0,0,1,-0.49,0.08H-1Z", "M-1,-0.08H-0.47L0,-0.55L0.47,-0.08H1V0.08H0.47L0,0.55L-0.47,0.08H-1Z"]}, "legend": {"title": null, "legendX": 43, "legendY": 0, "labelExpr": "'AU [GEOCOD=lg] <' + datum.label + '>'"}}}}
     ]},
    {"width": 215, "height": 133, "title": "Y Direction", "data": {"name": "lgy"},
     "encoding": {
      "x": {"field": "x", "type": "quantitative", "scale": {"domain": [8222983, 8224556], "nice": false, "zero": false}, "axis": {"title": "Range (m)", "values": [8222983,8223183,8223383,8223583,8223783,8223983,8224183,8224383], "format": "d", "labelExpr": "slice(datum.label, 0, 3) + '...'"}},
      "y": {"field": "v", "type": "quantitative", "scale": {"domain": [0, 0.22], "nice": false}, "axis": {"title": "Au (g/t)", "values": [0,0.05,0.1,0.15,0.2], "format": "~g"}},
      "color": {"field": "s", "type": "nominal", "scale": {"domain": ["CP","LP"], "range": ["#1e1e1e","#ef4b23"]}, "legend": {"title": null, "legendX": 45, "legendY": 0, "labelExpr": "'AU [GEOCOD=lg] <' + datum.label + '>'"}}
     },
     "layer": [
      {"transform": [{"filter": "datum.s === 'CP'"}], "mark": {"type": "point", "filled": true, "opacity": 1, "size": 46, "shape": "circle"}},
      {"transform": [{"filter": "datum.s === 'LP'"}], "mark": {"type": "point", "filled": true, "opacity": 1, "size": 46, "shape": "M0,-0.8L0.8,0L0,0.8L-0.8,0Z"}},
      {"mark": {"type": "line", "strokeWidth": 1.3}},
      {"transform": [{"filter": "false"}], "mark": {"type": "point", "filled": true, "opacity": 1}, "encoding": {"shape": {"field": "s", "type": "nominal", "scale": {"domain": ["CP","LP"], "range": ["M-1,-0.08H-0.49A0.5,0.5,0,0,1,0.49,-0.08H1V0.08H0.49A0.5,0.5,0,0,1,-0.49,0.08H-1Z", "M-1,-0.08H-0.47L0,-0.55L0.47,-0.08H1V0.08H0.47L0,0.55L-0.47,0.08H-1Z"]}, "legend": {"title": null, "legendX": 45, "legendY": 0, "labelExpr": "'AU [GEOCOD=lg] <' + datum.label + '>'"}}}}
     ]}
   ]}
  ]}
 ]}
]
}
